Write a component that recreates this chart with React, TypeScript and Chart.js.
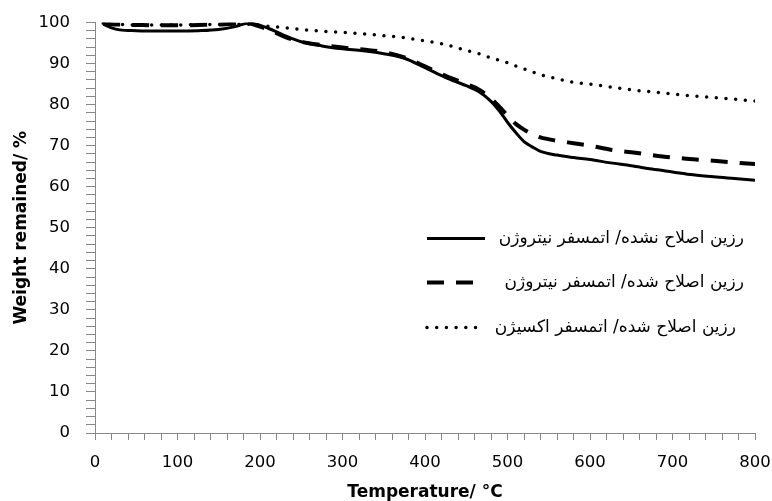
import React, { useEffect, useRef } from 'react';
import { Chart, registerables } from 'chart.js';

Chart.register(...registerables);

const temperatures = [10, 20, 30, 50, 75, 100, 125, 150, 170, 185, 195, 210, 230, 250, 275, 300, 325, 350, 375, 400, 425, 450, 465, 480, 490, 500, 510, 520, 530, 540, 560, 580, 600, 625, 650, 675, 700, 725, 750, 775, 800];

const unmodifiedNitrogen = [99.6, 98.7, 98.2, 98.0, 97.9, 97.9, 98.0, 98.3, 99.0, 99.8, 99.6, 98.6, 96.8, 95.3, 94.3, 93.6, 93.1, 92.4, 91.3, 89.0, 86.6, 84.6, 83.2, 80.8, 78.5, 75.7, 73.2, 71.0, 69.7, 68.6, 67.7, 67.1, 66.6, 65.8, 65.1, 64.3, 63.6, 62.9, 62.4, 62.0, 61.6];

const modifiedNitrogen = [99.9, 99.6, 99.5, 99.4, 99.3, 99.3, 99.4, 99.5, 99.7, 99.9, 99.3, 98.3, 96.5, 95.3, 94.5, 93.9, 93.4, 92.8, 91.5, 89.3, 87.0, 85.0, 83.7, 81.5, 79.5, 77.3, 75.3, 73.9, 72.8, 72.0, 71.2, 70.6, 70.0, 69.0, 68.4, 67.7, 67.1, 66.7, 66.3, 65.9, 65.5];

const modifiedOxygen = [99.8, 99.5, 99.5, 99.4, 99.4, 99.4, 99.5, 99.5, 99.6, 99.6, 99.4, 99.1, 98.7, 98.3, 97.9, 97.6, 97.2, 96.8, 96.3, 95.5, 94.6, 93.2, 92.4, 91.4, 90.8, 90.2, 89.4, 88.7, 88.0, 87.3, 86.3, 85.4, 85.0, 84.3, 83.6, 83.1, 82.6, 82.1, 81.7, 81.3, 80.9];

const seriesLabels = [
  'رزین اصلاح نشده/ اتمسفر نیتروژن',
  'رزین اصلاح شده/ اتمسفر نیتروژن',
  'رزین اصلاح شده/ اتمسفر اکسیژن',
];

const xTitle = 'Temperature/ °C';
const yTitle = 'Weight remained/ %';

const AXIS_GRAY = '#878787';
const TICK_FONT = { family: '"DejaVu Sans", sans-serif', size: 16.5 };
const TITLE_FONT = { family: '"DejaVu Sans", sans-serif', size: 17, weight: 'bold' as const, lineHeight: 1 };

const toPoints = (ys: number[]) => temperatures.map((t, i) => ({ x: t, y: ys[i] }));

const insideLegend = {
  id: 'insideLegend',
  afterDraw(chart: any) {
    const { ctx, chartArea } = chart;
    const sampleLeft = chartArea.left + 332;
    const sampleRight = chartArea.left + 390;
    const textRight = chartArea.left + 649;
    const rows = [chartArea.top + 216, chartArea.top + 260, chartArea.top + 305];
    chart.data.datasets.forEach((ds: any, i: number) => {
      const y = rows[i];
      ctx.save();
      ctx.strokeStyle = ds.borderColor;
      ctx.lineWidth = ds.borderWidth;
      ctx.lineCap = ds.borderCapStyle || 'butt';
      ctx.setLineDash(ds.borderDash || []);
      ctx.beginPath();
      ctx.moveTo(sampleLeft, y);
      ctx.lineTo(i === 2 ? sampleRight - 5 : sampleRight, y);
      ctx.stroke();
      ctx.setLineDash([]);
      ctx.fillStyle = '#000';
      ctx.font = '17px "DejaVu Sans", sans-serif';
      ctx.direction = 'rtl';
      ctx.textAlign = 'right';
      ctx.textBaseline = 'middle';
      ctx.fillText(ds.label, i === 2 ? textRight - 8 : textRight, y);
      ctx.restore();
    });
  },
};

export default function App() {
  const canvasRef = useRef<HTMLCanvasElement | null>(null);

  useEffect(() => {
    if (!canvasRef.current) return;
    const chart = new Chart(canvasRef.current, {
      type: 'line',
      data: {
        datasets: [
          {
            label: seriesLabels[0],
            data: toPoints(unmodifiedNitrogen),
            borderColor: '#000',
            borderWidth: 3,
            pointRadius: 0,
            cubicInterpolationMode: 'monotone',
            fill: false,
          },
          {
            label: seriesLabels[1],
            data: toPoints(modifiedNitrogen),
            borderColor: '#000',
            borderWidth: 4,
            borderDash: [17, 12],
            pointRadius: 0,
            cubicInterpolationMode: 'monotone',
            fill: false,
          },
          {
            label: seriesLabels[2],
            data: toPoints(modifiedOxygen),
            borderColor: '#000',
            borderWidth: 3.5,
            borderDash: [0, 9.7],
            borderCapStyle: 'round',
            pointRadius: 0,
            cubicInterpolationMode: 'monotone',
            fill: false,
          },
        ] as any,
      },
      options: {
        animation: false,
        responsive: false,
        layout: { padding: { left: 0, top: 22.5, right: 17, bottom: 0 } },
        plugins: {
          legend: { display: false },
          tooltip: { enabled: false },
        },
        scales: {
          x: {
            type: 'linear',
            min: 0,
            max: 800,
            afterFit: (scale: any) => {
              scale.height = 68;
              scale.paddingRight = 0;
              scale.paddingLeft = 0;
            },
            ticks: {
              stepSize: 20,
              autoSkip: false,
              maxRotation: 0,
              padding: 13,
              color: '#000',
              font: TICK_FONT,
              callback: (v: any) => (Number(v) % 100 === 0 ? String(v) : ''),
            },
            grid: {
              drawOnChartArea: false,
              drawTicks: true,
              tickLength: 7,
              color: AXIS_GRAY,
            },
            border: { display: true, color: AXIS_GRAY, width: 1 },
            title: {
              display: true,
              text: xTitle,
              color: '#000',
              font: TITLE_FONT,
              padding: { top: 0, bottom: 0 },
            },
          },
          y: {
            type: 'linear',
            min: 0,
            max: 100,
            afterFit: (scale: any) => {
              scale.width = 95;
              scale.paddingTop = 0;
              scale.paddingBottom = 0;
            },
            ticks: {
              stepSize: 2,
              autoSkip: false,
              padding: 16,
              color: '#000',
              font: TICK_FONT,
              callback: (v: any) => (Number(v) % 10 === 0 ? String(v) : ''),
            },
            grid: {
              drawOnChartArea: false,
              drawTicks: true,
              tickLength: 9,
              color: AXIS_GRAY,
            },
            border: { display: true, color: AXIS_GRAY, width: 1 },
            title: {
              display: true,
              text: yTitle,
              color: '#000',
              font: TITLE_FONT,
              padding: { top: 13, bottom: 0 },
            },
          },
        },
      } as any,
      plugins: [insideLegend],
    });
    return () => chart.destroy();
  }, []);

  return (
    <div style={{ position: 'fixed', left: 0, top: 0, width: 772, height: 501, background: '#fff' }}>
      <canvas ref={canvasRef} width={772} height={501} style={{ display: 'block', width: 772, height: 501 }} />
    </div>
  );
}
